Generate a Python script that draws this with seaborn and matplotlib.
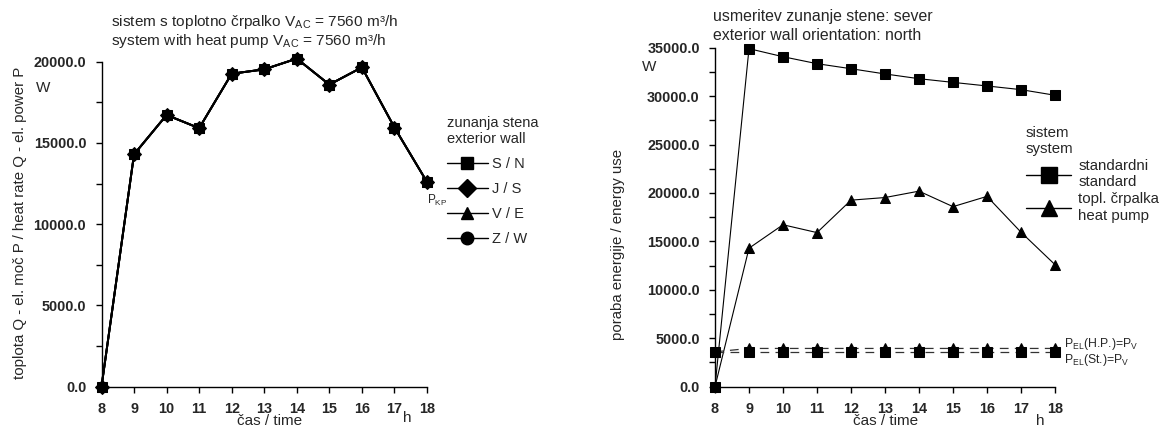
import numpy as np
import pandas as pd
import matplotlib
matplotlib.use("Agg")
import matplotlib.pyplot as plt
from matplotlib.lines import Line2D
from matplotlib.ticker import MultipleLocator, FormatStrFormatter
import seaborn as sns

# ---------------- data ----------------
hours = [8, 9, 10, 11, 12, 13, 14, 15, 16, 17, 18]
heat_pump = [0, 14300, 16720, 15910, 19260, 19530, 20190, 18590, 19650, 15950, 12600]
wall_labels = ["S / N", "J / S", "V / E", "Z / W"]
wall_markers = ["s", "D", "^", "o"]
# all four wall orientations coincide in the left chart
wall_series = {w: heat_pump for w in wall_labels}

standard = [0, 34900, 34070, 33350, 32830, 32290, 31800, 31420, 31050, 30670, 30090]
pel_hp = [3600, 3950, 3950, 3950, 3950, 3950, 3950, 3950, 3950, 3950, 3950]
pel_st = [3600, 3600, 3600, 3600, 3600, 3600, 3600, 3600, 3600, 3600, 3600]

left_yticks = [0, 5000, 10000, 15000, 20000]
right_yticks = [0, 5000, 10000, 15000, 20000, 25000, 30000, 35000]

# ---------------- style ----------------
sns.set_style("ticks")
plt.rcParams["font.family"] = ["Liberation Sans", "DejaVu Sans"]
plt.rcParams["mathtext.fontset"] = "custom"
plt.rcParams["mathtext.rm"] = "Liberation Sans"
plt.rcParams["mathtext.it"] = "Liberation Sans"

W, H = 1162, 429
fig = plt.figure(figsize=(W / 100, H / 100), dpi=100)


def fx(x):
    return x / W


def fy(y):
    return 1 - y / H


axL = fig.add_axes([fx(101.5), fy(386.7), fx(427) - fx(101.5), fy(61.7) - fy(386.7)])
axR = fig.add_axes([fx(715), fy(386.7), fx(1055) - fx(715), fy(47.7) - fy(386.7)])

# left chart: four identical series (square drawn last, on top)
order = [1, 2, 3, 0]
for i in order:
    w = wall_labels[i]
    df = pd.DataFrame({"h": hours, "v": wall_series[w]})
    sns.lineplot(data=df, x="h", y="v", ax=axL, color="black", lw=1.4,
                 marker=wall_markers[i], markersize=7, markeredgecolor="black",
                 markerfacecolor="black", clip_on=False, zorder=3)

# right chart
for vals, mk in [(heat_pump, "^"), (standard, "s")]:
    df = pd.DataFrame({"h": hours, "v": vals})
    sns.lineplot(data=df, x="h", y="v", ax=axR, color="black", lw=0.8,
                 marker=mk, markersize=6.5, markeredgecolor="black",
                 markerfacecolor="black", clip_on=False, zorder=3)
for vals, mk in [(pel_hp, "^"), (pel_st, "s")]:
    df = pd.DataFrame({"h": hours, "v": vals})
    sns.lineplot(data=df, x="h", y="v", ax=axR, color="#333333", lw=0.9,
                 marker=mk, markersize=6.5, markeredgecolor="black",
                 markerfacecolor="black", clip_on=False, zorder=3)
    axR.lines[-1].set_dashes([7, 5])

for ax, ymax, yt in [(axL, 20000, left_yticks), (axR, 35000, right_yticks)]:
    ax.set_xlim(8, 18)
    ax.set_ylim(0, ymax)
    ax.set_xticks(hours)
    ax.set_yticks(yt)
    ax.yaxis.set_minor_locator(MultipleLocator(2500))
    ax.yaxis.set_major_formatter(FormatStrFormatter("%.1f"))
    ax.tick_params(axis="both", which="both", direction="out", length=4,
                   width=1, color="black")
    ax.tick_params(axis="x", pad=7)
    ax.tick_params(axis="y", pad=7)
    for lab in ax.get_xticklabels() + ax.get_yticklabels():
        lab.set_fontweight("bold")
        lab.set_fontsize(10.4)
    ax.set_xlabel("")
    ax.set_ylabel("")
    sns.despine(ax=ax)
    for sp in ["left", "bottom"]:
        ax.spines[sp].set_linewidth(1)
        ax.spines[sp].set_color("black")
    ax.set_facecolor("white")

# ---------------- texts: left ----------------
fs = 10.5
fig.text(fx(111), fy(21.7), "sistem s toplotno črpalko V$_{\\mathrm{AC}}$ = 7560 m³/h",
         fontsize=11.1, va="center", ha="left")
fig.text(fx(111), fy(40.7), "system with heat pump V$_{\\mathrm{AC}}$ = 7560 m³/h",
         fontsize=11.1, va="center", ha="left")
fig.text(fx(43), fy(88), "W", fontsize=11, va="center", ha="center")
fig.text(fx(20), fy(223), "toplota Q - el. moč P / heat rate Q - el. power P",
         fontsize=10.8, rotation=90, va="center", ha="center")
fig.text(fx(270), fy(421), "čas / time", fontsize=11, va="center", ha="center")
fig.text(fx(407), fy(418), "h", fontsize=11, va="center", ha="center")
fig.text(fx(427), fy(200), "P$_{\\mathrm{KP}}$", fontsize=8.5, va="center", ha="left")

handlesL = [Line2D([], [], color="black", lw=1, marker=m, markersize=9)
            for m in wall_markers]
legL = fig.legend(handlesL, wall_labels, loc="upper left",
                  bbox_to_anchor=(fx(441), fy(110)), frameon=False,
                  title="zunanja stena\nexterior wall", fontsize=fs,
                  title_fontsize=fs, handlelength=2.8, handletextpad=0.3,
                  labelspacing=0.75, borderaxespad=0)
legL._legend_box.align = "left"

# ---------------- texts: right ----------------
fs_r = 11.4
fig.text(fx(713), fy(16.7), "usmeritev zunanje stene: sever", fontsize=fs_r,
         va="center", ha="left")
fig.text(fx(713), fy(36), "exterior wall orientation: north", fontsize=fs_r,
         va="center", ha="left")
fig.text(fx(649), fy(67), "W", fontsize=11, va="center", ha="center")
fig.text(fx(618), fy(244), "poraba energije / energy use", fontsize=10.8,
         rotation=90, va="center", ha="center")
fig.text(fx(886), fy(421), "čas / time", fontsize=11, va="center", ha="center")
fig.text(fx(1040), fy(421), "h", fontsize=11, va="center", ha="center")
fig.text(fx(1064), fy(344), "P$_{\\mathrm{EL}}$(H.P.)=P$_{\\mathrm{V}}$",
         fontsize=8.8, va="center", ha="left")
fig.text(fx(1064), fy(360), "P$_{\\mathrm{EL}}$(St.)=P$_{\\mathrm{V}}$",
         fontsize=8.8, va="center", ha="left")

handlesR = [Line2D([], [], color="black", lw=1, marker=m, markersize=11)
            for m in ["s", "^"]]
legR = fig.legend(handlesR, ["standardni\nstandard", "topl. črpalka\nheat pump"],
                  loc="upper left", bbox_to_anchor=(fx(1020), fy(120)),
                  frameon=False, title="sistem\nsystem", fontsize=10.8,
                  title_fontsize=10.8, handlelength=3.0, handletextpad=0.5,
                  labelspacing=0.2, borderaxespad=0)
legR._legend_box.align = "left"

fig.savefig("out.png", dpi=100, facecolor="white")
